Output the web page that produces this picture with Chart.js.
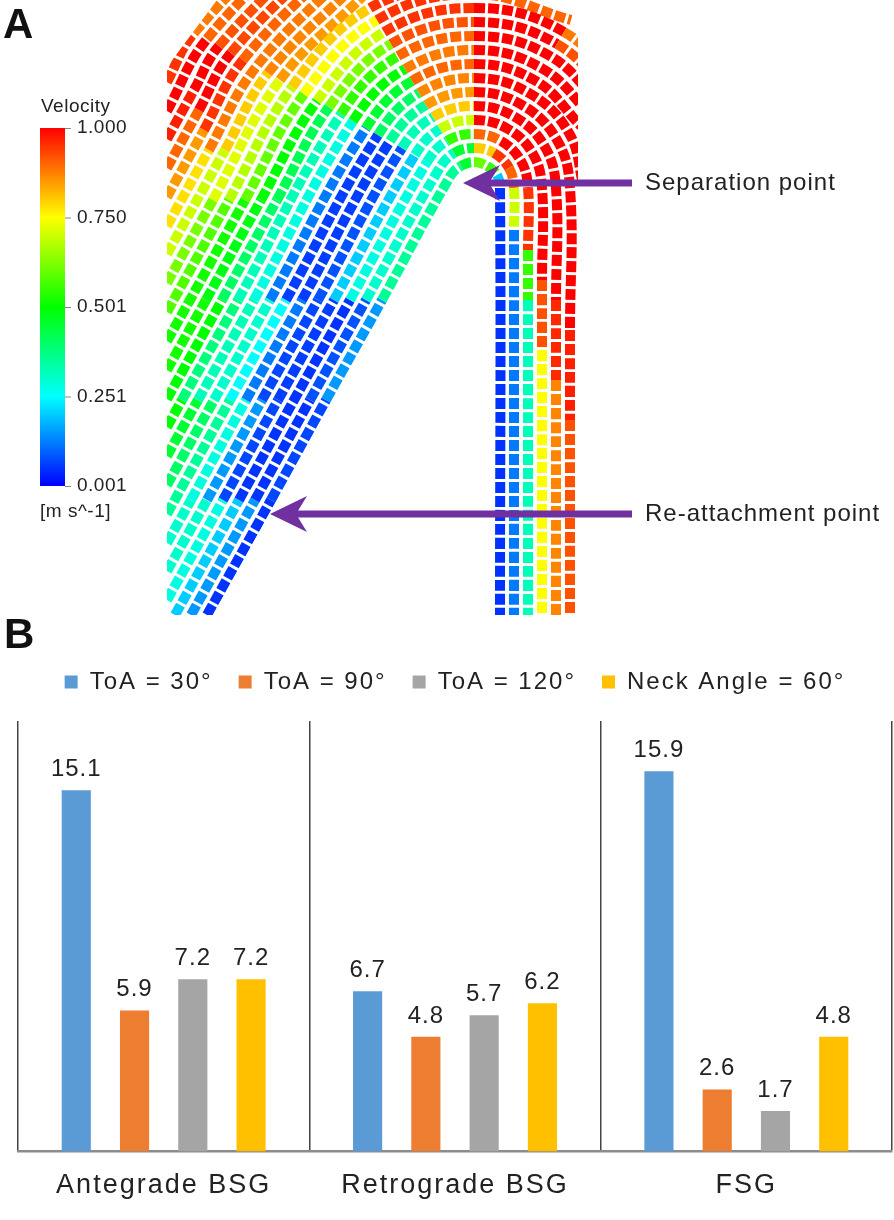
<!DOCTYPE html>
<html>
<head>
<meta charset="utf-8">
<title>Velocity vectors and shear gradients</title>
<script src="https://cdn.jsdelivr.net/npm/chart.js@4.4.0/dist/chart.umd.min.js"></script>
<style>
  html, body { margin: 0; padding: 0; background: #fff; }
  #page { position: relative; width: 894px; height: 1220px; overflow: hidden; }
  canvas { position: absolute; left: 0; }
  #fieldChart { top: 0; }
  #barChart { top: 610px; }
</style>
</head>
<body>
<div id="page">
  <canvas id="fieldChart" width="894" height="620"></canvas>
  <canvas id="barChart" width="894" height="610"></canvas>
</div>
<script>
// Panel B values
const categories = ['Antegrade BSG', 'Retrograde BSG', 'FSG'];
const seriesNames = ['ToA = 30°', 'ToA = 90°', 'ToA = 120°', 'Neck Angle = 60°'];
const toa30 = [15.1, 6.7, 15.9];
const toa90 = [5.9, 4.8, 2.6];
const toa120 = [7.2, 5.7, 1.7];
const neck60 = [7.2, 6.2, 4.8];
const seriesColors = ['#5b9bd5', '#ed7d31', '#a5a5a5', '#ffc000'];

// Panel A: streamlines sampled off the vector plot (field coordinates, y down)
const streamX = [
  [207, 271, 326, 382, 451, 461, 474, 487, 497, 500, 500],
  [191, 255, 310, 366, 439, 454, 474, 494, 509, 514, 514, 514],
  [175, 239, 294, 350, 427, 447, 474, 501, 521, 528, 528, 528, 528],
  [167, 223, 278, 334, 415, 440, 474, 508, 533, 542, 542, 542, 542],
  [167, 207, 262, 318, 402, 433, 474, 515, 545, 556, 556, 556, 556],
  [167, 191, 246, 302, 390, 426, 474, 522, 557, 570, 570, 570, 570],
  [167, 230, 286, 378, 419, 474, 529, 569, 584],
  [167, 214, 270, 366, 412, 474, 536, 581],
  [167, 198, 254, 353, 405, 474, 543, 594],
  [167, 182, 238, 341, 398, 474, 550, 606],
  [167, 222, 277, 329, 391, 474, 557, 618],
  [167, 206, 261, 317, 384, 474, 564, 630],
  [167, 190, 245, 304, 377, 474, 571],
  [167, 229, 292, 370, 474],
  [167, 213, 280, 363],
  [167, 225, 268, 356],
  [167, 209, 256, 349],
  [167, 204, 243, 342],
  [167, 199, 231, 335],
  [167, 194, 219, 328],
  [167, 207, 321],
  [167, 194, 314]
];
const streamY = [
  [615, 500, 400, 300, 175, 166, 162, 166, 175, 188, 615],
  [615, 500, 400, 300, 169, 153, 148, 153, 168, 188, 230, 615],
  [615, 500, 400, 300, 162, 141, 134, 141, 161, 188, 250, 300, 615],
  [600, 500, 400, 300, 155, 129, 120, 129, 154, 188, 280, 350, 615],
  [571, 500, 400, 300, 148, 117, 106, 117, 147, 188, 300, 380, 615],
  [543, 500, 400, 300, 141, 105, 92, 105, 140, 188, 330, 420, 615],
  [514, 400, 300, 135, 93, 78, 93, 133, 188],
  [485, 400, 300, 128, 81, 64, 81, 126],
  [456, 400, 300, 121, 69, 50, 69, 119],
  [427, 400, 300, 114, 56, 36, 56, 112],
  [399, 300, 200, 107, 44, 22, 44, 105],
  [370, 300, 200, 101, 32, 8, 32, 98],
  [341, 300, 200, 94, 20, -6, 20],
  [312, 200, 87, 8, -20],
  [283, 200, 80, -4],
  [254, 150, 73, -16],
  [226, 150, 67, -29],
  [197, 130, 60, -41],
  [168, 110, 53, -53],
  [139, 90, 46, -65],
  [111, 39, -77],
  [82, 33, -89]
];
const streamV = [
  [0.05, 0.07, 0.15, 0.35, 0.35, 0.45, 0.6, 0.55, 0.2, 0.05, 0.05],
  [0.15, 0.05, 0.08, 0.3, 0.3, 0.45, 0.8, 0.95, 0.9, 0.7, 0.12, 0.12],
  [0.2, 0.05, 0.05, 0.28, 0.3, 0.55, 0.9, 1.0, 1.0, 0.95, 0.55, 0.32, 0.32],
  [0.28, 0.07, 0.06, 0.2, 0.3, 0.7, 1.0, 1.0, 1.0, 1.0, 0.92, 0.75, 0.75],
  [0.3, 0.15, 0.07, 0.08, 0.32, 0.8, 1.0, 1.0, 1.0, 1.0, 0.96, 0.87, 0.87],
  [0.3, 0.28, 0.12, 0.06, 0.35, 0.85, 1.0, 1.0, 1.0, 1.0, 0.97, 0.92, 0.92],
  [0.35, 0.25, 0.06, 0.4, 0.87, 1.0, 1.0, 1.0, 1.0],
  [0.4, 0.3, 0.12, 0.45, 0.9, 1.0, 1.0, 1.0],
  [0.45, 0.32, 0.28, 0.5, 0.88, 1.0, 1.0, 1.0],
  [0.5, 0.38, 0.32, 0.55, 0.9, 1.0, 1.0, 1.0],
  [0.5, 0.4, 0.42, 0.62, 0.92, 1.0, 0.92, 0.9],
  [0.52, 0.48, 0.5, 0.7, 0.95, 1.0, 0.88, 0.88],
  [0.52, 0.52, 0.6, 0.75, 0.95, 0.9, 0.88],
  [0.58, 0.68, 0.8, 0.95, 1.0],
  [0.62, 0.72, 0.85, 0.9],
  [0.7, 0.8, 0.87, 0.88],
  [0.78, 0.88, 0.88, 0.88],
  [0.85, 0.95, 0.9, 0.88],
  [0.9, 1.0, 0.93, 0.88],
  [0.97, 1.0, 0.92, 0.88],
  [1.0, 0.9, 0.88],
  [0.95, 0.88, 0.88]
];
// vessel wall (white area) and the cut corner of the section plane
const wallX = [213, 455, 464, 474, 484, 490, 486, 486];
const wallY = [615, 180, 170, 167, 170, 178, 195, 615];
const cutX = [167, 217, 167];
const cutY = [0, 0, 67];
const velocityTicks = ['1.000', '0.750', '0.501', '0.251', '0.001'];

const FONT = '"Liberation Sans", Arial, sans-serif';
Chart.defaults.font.family = FONT;

// Fluent style rainbow: blue - cyan - green - yellow - red
function rainbow(v) {
  const stops = [[0, 0, 255], [0, 255, 255], [0, 255, 0], [255, 255, 0], [255, 0, 0]];
  const t = Math.max(0, Math.min(1, v)) * 4;
  const i = Math.min(3, Math.floor(t));
  const f = t - i;
  const a = stops[i], b = stops[i + 1];
  const c = a.map((n, k) => Math.round(n + (b[k] - n) * f));
  return `rgb(${c[0]}, ${c[1]}, ${c[2]})`;
}

function polygon(ctx, chart, xs, ys) {
  const sx = chart.scales.x, sy = chart.scales.y;
  ctx.beginPath();
  xs.forEach((x, i) => {
    const px = sx.getPixelForValue(x), py = sy.getPixelForValue(ys[i]);
    if (i === 0) ctx.moveTo(px, py); else ctx.lineTo(px, py);
  });
  ctx.closePath();
  ctx.fill();
}

function arrow(ctx, tipX, y, tailX) {
  ctx.fillRect(tipX + 26, y - 3.5, tailX - tipX - 26, 7);
  ctx.beginPath();
  ctx.moveTo(tipX, y);
  ctx.lineTo(tipX + 37, y - 18);
  ctx.lineTo(tipX + 26, y);
  ctx.lineTo(tipX + 37, y + 18);
  ctx.closePath();
  ctx.fill();
}

// masks, colour bar, arrows and texts of panel A
const fieldDecor = {
  id: 'fieldDecor',
  afterDatasetsDraw(chart) {
    const ctx = chart.ctx;
    ctx.save();
    ctx.fillStyle = '#fff';
    polygon(ctx, chart, wallX, wallY);
    polygon(ctx, chart, cutX, cutY);
    ctx.restore();
  },
  afterDraw(chart) {
    const ctx = chart.ctx;
    ctx.save();
    ctx.fillStyle = '#111';
    ctx.font = 'bold 42px ' + FONT;
    ctx.textBaseline = 'alphabetic';
    ctx.fillText('A', 3, 38);

    // colour bar
    const top = 128, bottom = 486;
    const grad = ctx.createLinearGradient(0, top, 0, bottom);
    [1, 0.75, 0.5, 0.25, 0].forEach((v, i) => grad.addColorStop(i / 4, rainbow(v)));
    ctx.fillStyle = grad;
    ctx.fillRect(40, top, 25, bottom - top);
    ctx.letterSpacing = '0.5px';
    ctx.font = '19px ' + FONT;
    ctx.fillStyle = '#222';
    ctx.textBaseline = 'middle';
    ctx.strokeStyle = '#888';
    ctx.lineWidth = 1;
    velocityTicks.forEach((t, i) => {
      const y = top + i * (bottom - top) / 4;
      ctx.beginPath();
      ctx.moveTo(65, y + 0.5);
      ctx.lineTo(71, y + 0.5);
      ctx.stroke();
      ctx.fillText(t, 77, y);
    });
    ctx.fillText('Velocity', 41, 107);
    ctx.fillText('[m s^-1]', 40, 512);

    // annotations
    ctx.fillStyle = '#7030a0';
    arrow(ctx, 463, 183, 632);
    arrow(ctx, 270, 514, 632);
    ctx.letterSpacing = '1px';
    ctx.fillStyle = '#222';
    ctx.font = '24px ' + FONT;
    ctx.fillText('Separation point', 645, 183);
    ctx.fillText('Re-attachment point', 645, 514);
    ctx.restore();
  }
};

const fieldDatasets = streamX.map((xs, i) => {
  const vs = streamV[i];
  return {
    data: xs.map((x, j) => ({ x: x, y: streamY[i][j] })),
    showLine: true,
    borderWidth: 10,
    borderDash: [11, 3],
    borderCapStyle: 'butt',
    borderColor: rainbow(vs[0]),
    pointRadius: 0,
    tension: 0.4,
    clip: 0,
    segment: { borderColor: c => rainbow(vs[c.p0DataIndex]) }
  };
});

new Chart(document.getElementById('fieldChart'), {
  type: 'scatter',
  data: { datasets: fieldDatasets },
  options: {
    responsive: false,
    animation: false,
    layout: { padding: { left: 167, right: 316, top: 0, bottom: 5 } },
    elements: { line: { capBezierPoints: false } },
    scales: {
      x: { type: 'linear', min: 167, max: 578, display: false },
      y: { type: 'linear', min: 0, max: 615, reverse: true, display: false }
    },
    plugins: { legend: { display: false }, tooltip: { enabled: false } }
  },
  plugins: [fieldDecor]
});

// tracking of the Excel text
const spacing = {
  id: 'spacing',
  beforeLayout(chart) { chart.ctx.letterSpacing = '2px'; },
  beforeDraw(chart) { chart.ctx.letterSpacing = '2px'; }
};

// value above every bar, plus panel letter
const valueLabels = {
  id: 'valueLabels',
  afterDatasetsDraw(chart) {
    const ctx = chart.ctx;
    ctx.save();
    ctx.letterSpacing = '1px';
    ctx.font = '24px ' + FONT;
    ctx.fillStyle = '#222';
    ctx.textAlign = 'center';
    ctx.textBaseline = 'alphabetic';
    chart.data.datasets.forEach((ds, i) => {
      chart.getDatasetMeta(i).data.forEach((bar, j) => {
        ctx.fillText(ds.data[j].toFixed(1), bar.x, bar.y - 14);
      });
    });
    ctx.letterSpacing = '0px';
    ctx.textAlign = 'left';
    ctx.fillStyle = '#111';
    ctx.font = 'bold 42px ' + FONT;
    ctx.fillText('B', 4, 38);
    ctx.restore();
  }
};

const barSeries = [toa30, toa90, toa120, neck60];

new Chart(document.getElementById('barChart'), {
  type: 'bar',
  data: {
    labels: categories,
    datasets: barSeries.map((values, i) => ({
      label: seriesNames[i],
      data: values,
      backgroundColor: seriesColors[i],
      categoryPercentage: 0.8,
      barPercentage: 0.5
    }))
  },
  options: {
    responsive: false,
    animation: false,
    layout: { padding: { left: 18, right: 2, top: 34, bottom: 0 } },
    scales: {
      x: {
        grid: { offset: true, color: '#444', lineWidth: 1.5, drawTicks: false },
        border: { display: true, color: '#8c8c8c', width: 2.5 },
        ticks: { color: '#222', font: { size: 27 }, padding: 18 }
      },
      y: { min: 0, max: 18, display: false }
    },
    plugins: {
      legend: {
        position: 'top',
        labels: { color: '#222', font: { size: 24 }, boxWidth: 13, boxHeight: 13, padding: 26 }
      },
      title: { display: true, text: '', weight: 500, font: { size: 10 }, padding: { top: 0, bottom: 5 } },
      tooltip: { enabled: false }
    }
  },
  plugins: [spacing, valueLabels]
});
</script>
</body>
</html>
